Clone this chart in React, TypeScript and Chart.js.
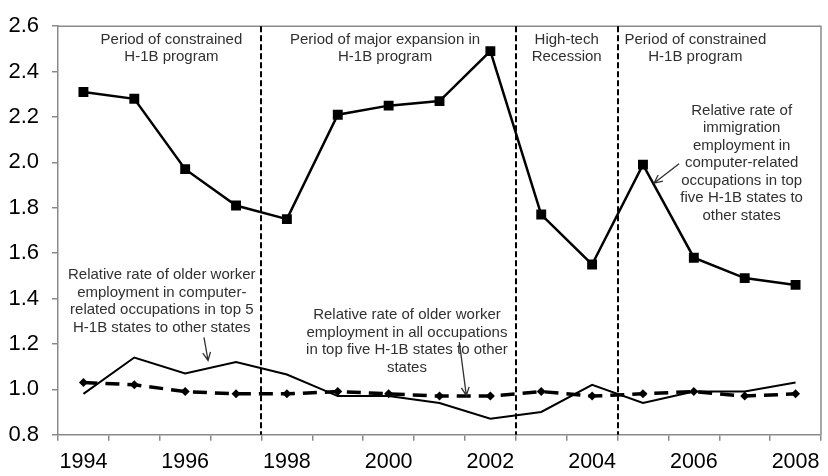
import React, { useEffect, useRef } from 'react';
import { Chart, registerables } from 'chart.js';

Chart.register(...registerables);

const years = ['1994', '1995', '1996', '1997', '1998', '1999', '2000', '2001', '2002', '2003', '2004', '2005', '2006', '2007', '2008'];
const immigrationRate = [2.31, 2.28, 1.97, 1.81, 1.75, 2.21, 2.25, 2.27, 2.49, 1.77, 1.55, 1.99, 1.58, 1.49, 1.46];
const olderComputerRate = [0.98, 1.14, 1.07, 1.12, 1.065, 0.97, 0.97, 0.94, 0.87, 0.9, 1.02, 0.94, 0.99, 0.99, 1.03];
const olderAllRate = [1.03, 1.02, 0.99, 0.98, 0.98, 0.99, 0.98, 0.97, 0.97, 0.99, 0.97, 0.98, 0.99, 0.97, 0.98];
const periodDividers = [3.5, 8.5, 10.5];
const yMin = 0.8;
const yMax = 2.6;
const yStep = 0.2;

const notes = [
  { lines: ['Period of constrained', 'H-1B program'], x: 1.73, y: 2.541 },
  { lines: ['Period of major expansion in', 'H-1B program'], x: 5.93, y: 2.541 },
  { lines: ['High-tech', 'Recession'], x: 9.5, y: 2.541 },
  { lines: ['Period of constrained', 'H-1B program'], x: 12.03, y: 2.541 },
  {
    lines: ['Relative rate of', 'immigration', 'employment in', 'computer-related', 'occupations in top', 'five H-1B states to', 'other states'],
    x: 12.94,
    y: 2.228,
  },
  {
    lines: ['Relative rate of older worker', 'employment in computer-', 'related occupations in top 5', 'H-1B states to other states'],
    x: 1.54,
    y: 1.503,
  },
  {
    lines: ['Relative rate of older worker', 'employment in all occupations', 'in top five H-1B states to other', 'states'],
    x: 6.36,
    y: 1.328,
  },
];

const arrows = [
  { fx: 11.71, fy: 1.994, tx: 11.22, ty: 1.909 },
  { fx: 2.37, fy: 1.229, tx: 2.45, ty: 1.127 },
  { fx: 7.39, fy: 1.208, tx: 7.527, ty: 0.973 },
];

const FONT = '"Liberation Sans", Arial, sans-serif';
const GRAY = '#8a8a8a';

const overlayPlugin = {
  id: 'overlay',
  beforeDatasetsDraw(chart: any) {
    const { ctx, chartArea, scales } = chart;
    const xs = scales.x;
    ctx.save();
    ctx.strokeStyle = GRAY;
    ctx.lineWidth = 1.5;
    ctx.beginPath();
    ctx.moveTo(chartArea.left, chartArea.top);
    ctx.lineTo(chartArea.right, chartArea.top);
    ctx.lineTo(chartArea.right, chartArea.bottom);
    ctx.stroke();
    ctx.strokeStyle = '#000';
    ctx.lineWidth = 2;
    ctx.setLineDash([6, 3]);
    periodDividers.forEach((d) => {
      const px = Math.round(xs.getPixelForValue(d));
      ctx.beginPath();
      ctx.moveTo(px, chartArea.top);
      ctx.lineTo(px, chartArea.bottom);
      ctx.stroke();
    });
    ctx.restore();
  },
  afterDatasetsDraw(chart: any) {
    const { ctx, scales } = chart;
    const xs = scales.x;
    const ys = scales.y;
    ctx.save();
    ctx.fillStyle = '#303030';
    ctx.font = '15px ' + FONT;
    ctx.textAlign = 'center';
    ctx.textBaseline = 'middle';
    notes.forEach((n) => {
      const px = xs.getPixelForValue(n.x);
      const py = ys.getPixelForValue(n.y);
      n.lines.forEach((l, i) => ctx.fillText(l, px, py + i * 17.5));
    });
    ctx.strokeStyle = '#303030';
    ctx.lineWidth = 1.3;
    arrows.forEach((a) => {
      const x1 = xs.getPixelForValue(a.fx);
      const y1 = ys.getPixelForValue(a.fy);
      const x2 = xs.getPixelForValue(a.tx);
      const y2 = ys.getPixelForValue(a.ty);
      const ang = Math.atan2(y2 - y1, x2 - x1);
      const h = 9;
      ctx.beginPath();
      ctx.moveTo(x1, y1);
      ctx.lineTo(x2, y2);
      ctx.moveTo(x2 - h * Math.cos(ang - 0.45), y2 - h * Math.sin(ang - 0.45));
      ctx.lineTo(x2, y2);
      ctx.lineTo(x2 - h * Math.cos(ang + 0.45), y2 - h * Math.sin(ang + 0.45));
      ctx.stroke();
    });
    ctx.restore();
  },
};

export default function App() {
  const ref = useRef<HTMLCanvasElement>(null);
  useEffect(() => {
    if (!ref.current) return;
    const chart = new Chart(ref.current, {
      type: 'line',
      data: {
        labels: years,
        datasets: [
          {
            data: immigrationRate,
            borderColor: '#000',
            backgroundColor: '#000',
            borderWidth: 2.5,
            pointStyle: 'rect',
            pointRadius: 7,
            pointBorderWidth: 0,
            tension: 0,
          },
          {
            data: olderComputerRate,
            borderColor: '#000',
            borderWidth: 2,
            pointRadius: 0,
            tension: 0,
          },
          {
            data: olderAllRate,
            borderColor: '#000',
            backgroundColor: '#000',
            borderWidth: 3.5,
            borderDash: [14, 8],
            pointStyle: 'rectRot',
            pointRadius: 4.5,
            pointBorderWidth: 0,
            tension: 0,
          },
        ],
      },
      options: {
        animation: false,
        responsive: false,
        events: [],
        layout: { padding: { top: 12, right: 2, left: 0, bottom: 0 } },
        plugins: { legend: { display: false }, tooltip: { enabled: false } },
        scales: {
          x: {
            type: 'category',
            offset: true,
            grid: { display: true, drawOnChartArea: false, offset: true, tickLength: 6, color: GRAY, lineWidth: 1.5 },
            border: { display: true, color: GRAY, width: 1.5 },
            ticks: {
              autoSkip: false,
              maxRotation: 0,
              padding: 8,
              color: '#000',
              font: { family: FONT, size: 21.5 },
              callback: (_v: any, i: number) => (i % 2 === 0 ? years[i] : ''),
            },
            afterFit: (s: any) => {
              s.height = 41.3;
            },
          },
          y: {
            min: yMin,
            max: yMax,
            grid: { display: true, drawOnChartArea: false, tickLength: 6, color: GRAY, lineWidth: 1.5 },
            border: { display: true, color: GRAY, width: 1.5 },
            ticks: {
              stepSize: yStep,
              padding: 13,
              color: '#000',
              font: { family: FONT, size: 22 },
              callback: (v: any) => Number(v).toFixed(1),
            },
            afterFit: (s: any) => {
              s.width = 58;
            },
          },
        },
      },
      plugins: [overlayPlugin],
    } as any);
    return () => chart.destroy();
  }, []);
  return (
    <div style={{ position: 'absolute', left: 0, top: 0, width: 828, height: 476, background: '#fff' }}>
      <canvas ref={ref} width={828} height={476} />
    </div>
  );
}
